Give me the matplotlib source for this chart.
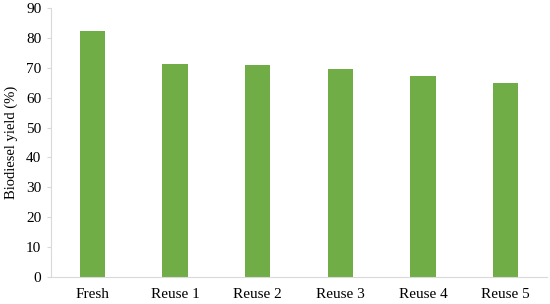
import matplotlib.pyplot as plt

# Biodiesel yield per catalyst cycle
labels = ["Fresh", "Reuse 1", "Reuse 2", "Reuse 3", "Reuse 4", "Reuse 5"]
yields = [82.4, 71.4, 71.0, 69.5, 67.1, 64.8]

plt.rcParams['font.family'] = ['Liberation Serif', 'DejaVu Serif']

fig = plt.figure(figsize=(5.5, 3.04), dpi=100)
ax = fig.add_axes([51 / 550, 27 / 304, 496 / 550, 269 / 304])

x = range(len(labels))
ax.bar(x, yields, width=0.31, color='#70AD47')

ax.set_xlim(-0.5, len(labels) - 0.5)
ax.set_ylim(0, 90)
ax.set_yticks(range(0, 91, 10))
ax.set_xticks(list(x))
ax.set_xticklabels(labels)
ax.set_ylabel('Biodiesel yield (%)', fontsize=10.5, labelpad=6)

for side in ['top', 'right']:
    ax.spines[side].set_visible(False)
for side in ['left', 'bottom']:
    ax.spines[side].set_color('#d9d9d9')
ax.tick_params(axis='y', length=3, color='#d9d9d9', labelsize=11, pad=4)
ax.tick_params(axis='x', length=0, labelsize=11, pad=8)

fig.savefig('out.png', dpi=100)
